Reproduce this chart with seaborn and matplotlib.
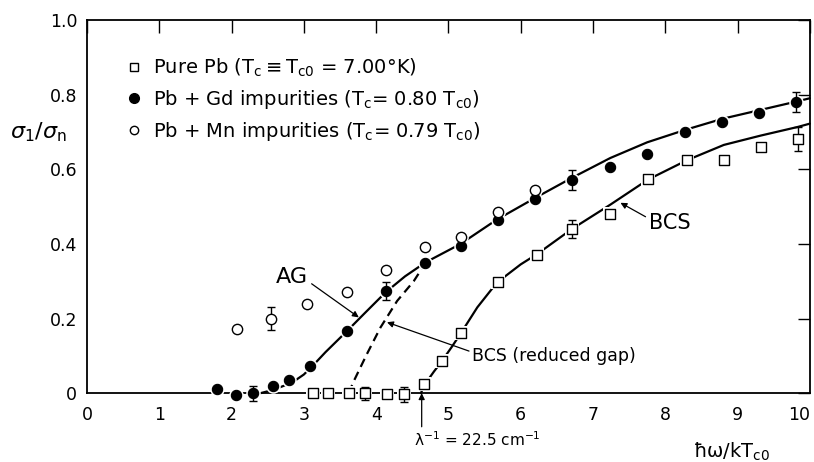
import matplotlib
matplotlib.use("Agg")
import matplotlib.pyplot as plt
import seaborn as sns
import numpy as np
import pandas as pd

# ---------------- data ----------------
pb_x = [3.12, 3.34, 3.62, 3.85, 4.15, 4.38, 4.66, 4.91, 5.17, 5.68, 6.23, 6.71, 7.24, 7.76, 8.30, 8.81, 9.32, 9.83]
pb_y = [0.0, 0.0, 0.0, 0.0, -0.003, -0.003, 0.025, 0.086, 0.162, 0.297, 0.371, 0.44, 0.48, 0.575, 0.624, 0.624, 0.66, 0.682]

gd_x = [1.80, 2.06, 2.29, 2.57, 2.80, 3.09, 3.60, 4.13, 4.68, 5.17, 5.68, 6.20, 6.71, 7.24, 7.75, 8.27, 8.79, 9.30, 9.81]
gd_y = [0.01, -0.005, 0.0, 0.02, 0.034, 0.074, 0.167, 0.274, 0.35, 0.395, 0.465, 0.52, 0.572, 0.606, 0.641, 0.70, 0.727, 0.751, 0.78]

mn_x = [2.07, 2.55, 3.05, 3.60, 4.13, 4.68, 5.17, 5.68, 6.20]
mn_y = [0.171, 0.20, 0.24, 0.272, 0.33, 0.392, 0.417, 0.484, 0.544]

# error bars
pb_err_x = [3.85, 4.38, 6.71, 9.83]
pb_err_y = [0.0, -0.003, 0.44, 0.682]
pb_err = [0.017, 0.02, 0.024, 0.032]
gd_err_x = [2.29, 4.13, 6.71, 9.81]
gd_err_y = [0.0, 0.274, 0.572, 0.78]
gd_err = [0.02, 0.024, 0.027, 0.028]
mn_err_x = [2.55]
mn_err_y = [0.20]
mn_err = [0.03]

# theory curves
ag_x = [2.40, 2.50, 2.60, 2.70, 2.85, 3.00, 3.13, 3.30, 3.60, 3.83, 4.13, 4.40, 4.68, 5.17, 5.67, 6.20, 6.71, 7.24, 7.75, 8.27, 8.79, 9.30, 9.81, 10.0]
ag_y = [0.0, 0.005, 0.011, 0.018, 0.030, 0.050, 0.075, 0.110, 0.167, 0.212, 0.270, 0.313, 0.350, 0.400, 0.465, 0.523, 0.577, 0.630, 0.672, 0.705, 0.735, 0.758, 0.781, 0.790]

bcs_x = [4.62, 4.66, 4.80, 4.91, 5.05, 5.17, 5.40, 5.67, 6.00, 6.23, 6.71, 7.24, 7.76, 8.30, 8.81, 9.32, 9.83, 10.0]
bcs_y = [0.0, 0.020, 0.058, 0.086, 0.125, 0.160, 0.230, 0.296, 0.345, 0.373, 0.440, 0.505, 0.572, 0.624, 0.665, 0.690, 0.713, 0.722]

bcsr_x = [3.62, 3.69, 3.87, 4.06, 4.29, 4.52, 4.68]
bcsr_y = [0.0, 0.032, 0.104, 0.176, 0.247, 0.300, 0.348]

x_ticks = [0, 1, 2, 3, 4, 5, 6, 7, 8, 9, 10]
x_tick_labels = ["0", "1", "2", "3", "4", "5", "6", "7", "8", "9", "10"]
y_ticks = [0, 0.2, 0.4, 0.6, 0.8, 1.0]
y_tick_labels = ["0", "0.2", "0.4", "0.6", "0.8", "1.0"]

legend_labels = [
    "Pure Pb (T$_\\mathregular{c}$$\\equiv$T$_\\mathregular{c0}$ = 7.00°K)",
    "Pb + Gd impurities (T$_\\mathregular{c}$= 0.80 T$_\\mathregular{c0}$)",
    "Pb + Mn impurities (T$_\\mathregular{c}$= 0.79 T$_\\mathregular{c0}$)",
]

# ---------------- figure ----------------
sns.set_theme(style="white")
plt.rcParams["font.family"] = ["DejaVu Sans"]
plt.rcParams["mathtext.fontset"] = "dejavusans"
plt.rcParams["text.color"] = "black"
plt.rcParams["axes.labelcolor"] = "black"
plt.rcParams["xtick.color"] = "black"
plt.rcParams["ytick.color"] = "black"

fig = plt.figure(figsize=(8.14, 4.62), dpi=100)
ax = fig.add_axes([0.1069, 0.149, 0.888, 0.808])

lw = 1.6
sns.lineplot(x=ag_x, y=ag_y, ax=ax, color="black", lw=lw, sort=False, zorder=2)
sns.lineplot(x=bcs_x, y=bcs_y, ax=ax, color="black", lw=lw, sort=False, zorder=2)
sns.lineplot(x=bcsr_x, y=bcsr_y, ax=ax, color="black", lw=lw, sort=False, zorder=2)
ax.lines[-1].set_linestyle((0, (4, 2.5)))

for ln in ax.lines:
    ln.set_clip_on(False)

# white halos to make the gaps around markers
for xs, ys, m, s in [(pb_x, pb_y, "s", 90), (gd_x, gd_y, "o", 110), (mn_x, mn_y, "o", 110)]:
    ax.scatter(xs, ys, marker=m, s=s, color="white", zorder=3, clip_on=False, linewidths=0)

# error bars
for ex, ey, ee in [(pb_err_x, pb_err_y, pb_err), (gd_err_x, gd_err_y, gd_err), (mn_err_x, mn_err_y, mn_err)]:
    ax.errorbar(ex, ey, yerr=ee, fmt="none", ecolor="black", elinewidth=1.0, capsize=3, capthick=1.0, zorder=3.5, clip_on=False)

sns.scatterplot(x=pb_x, y=pb_y, ax=ax, marker="s", s=45, facecolor="white", edgecolor="black", linewidth=1.0, zorder=4, clip_on=False)
sns.scatterplot(x=gd_x, y=gd_y, ax=ax, marker="o", s=55, color="black", edgecolor="black", linewidth=0.8, zorder=4, clip_on=False)
sns.scatterplot(x=mn_x, y=mn_y, ax=ax, marker="o", s=55, facecolor="white", edgecolor="black", linewidth=1.0, zorder=4, clip_on=False)

ax.set_xlim(0, 10)
ax.set_ylim(0, 1.0)
ax.set_xticks(x_ticks)
ax.set_xticklabels(x_tick_labels)
ax.set_yticks(y_ticks)
ax.set_yticklabels(y_tick_labels)
ax.tick_params(axis="both", direction="in", length=9, width=1.0, colors="black",
               labelsize=12.5, top=True, right=True, pad=7)
ax.tick_params(axis="x", pad=9)
ax.get_xticklabels()[-1].set_horizontalalignment("right")
for sp in ax.spines.values():
    sp.set_color("black")
    sp.set_linewidth(1.3)

# legend
from matplotlib.lines import Line2D
handles = [
    Line2D([], [], ls="none", marker="s", ms=6, mfc="white", mec="black", mew=1.0),
    Line2D([], [], ls="none", marker="o", ms=7, mfc="black", mec="black"),
    Line2D([], [], ls="none", marker="o", ms=6, mfc="white", mec="black", mew=1.0),
]
leg = ax.legend(handles, legend_labels, loc="upper left", bbox_to_anchor=(0.054, 0.90),
                frameon=False, fontsize=14, handlelength=0.8, handletextpad=0.6,
                labelspacing=0.45, borderpad=0, borderaxespad=0)
for t in leg.get_texts():
    t.set_color("black")

# annotations
arrow = dict(arrowstyle="-|>", color="black", lw=0.9, mutation_scale=9, shrinkA=0, shrinkB=0)
ax.annotate("AG", xy=(3.76, 0.203), xytext=(2.84, 0.31), fontsize=16, ha="center", va="center",
            arrowprops=dict(arrow, relpos=(1.0, 0.3)))
ax.annotate("BCS (reduced gap)", xy=(4.15, 0.19), xytext=(5.33, 0.10), fontsize=12.5, ha="left", va="center",
            arrowprops=dict(arrow, relpos=(0.0, 0.7)))
ax.annotate("BCS", xy=(7.38, 0.51), xytext=(8.06, 0.457), fontsize=15, ha="center", va="center",
            arrowprops=dict(arrow, relpos=(0.0, 0.7)))
ax.annotate("", xy=(4.63, 0.0), xytext=(4.63, -0.09), annotation_clip=False,
            arrowprops=dict(arrow))
ax.text(5.40, -0.124, "λ$^{-1}$ = 22.5 cm$^{-1}$", fontsize=11, ha="center", va="center", clip_on=False)
ax.text(8.92, -0.156, "ħω/kT$_\\mathregular{c0}$", fontsize=14, ha="center", va="center", clip_on=False)
ax.text(-0.68, 0.70, "$\\sigma_1/\\sigma_\\mathregular{n}$", fontsize=16, ha="center", va="center", clip_on=False)

fig.savefig("out.png", dpi=100)
